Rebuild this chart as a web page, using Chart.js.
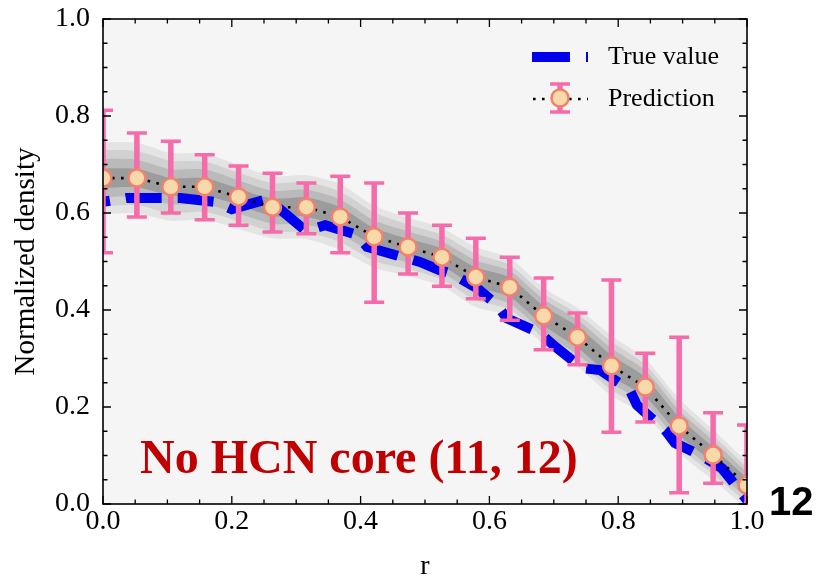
<!DOCTYPE html>
<html>
<head>
<meta charset="utf-8">
<script src="https://cdn.jsdelivr.net/npm/chart.js@4.4.1/dist/chart.umd.min.js"></script>
<style>
  html, body { margin: 0; padding: 0; background: #fff; }
</style>
</head>
<body>
<canvas id="chartDensity" width="829" height="578"></canvas>
<script>
// --- données ---

// grille radiale de la prédiction (20 points)
const rPred = [0.0000, 0.0526, 0.1053, 0.1579, 0.2105, 0.2632, 0.3158, 0.3684, 0.4211, 0.4737,
               0.5263, 0.5789, 0.6316, 0.6842, 0.7368, 0.7895, 0.8421, 0.8947, 0.9474, 1.0000];
const predValue = [0.672, 0.672, 0.654, 0.654, 0.633, 0.612, 0.612, 0.592, 0.551, 0.530,
                   0.509, 0.468, 0.447, 0.388, 0.344, 0.285, 0.241, 0.161, 0.101, 0.039];
// bornes des barres d'erreur
const predHigh = [0.812, 0.765, 0.748, 0.720, 0.697, 0.682, 0.662, 0.676, 0.662, 0.600,
                  0.575, 0.548, 0.509, 0.466, 0.394, 0.462, 0.311, 0.344, 0.188, 0.163];
const predLow = [0.518, 0.592, 0.600, 0.586, 0.575, 0.561, 0.557, 0.518, 0.416, 0.474,
                 0.449, 0.423, 0.379, 0.318, 0.287, 0.148, 0.169, 0.023, 0.043, -0.085];

// demi-largeurs des bandes grises autour de la prédiction (de la plus claire à la plus foncée)
const bandWide = [0.074, 0.073, 0.070, 0.068, 0.066, 0.064, 0.066, 0.068, 0.064, 0.060,
                  0.060, 0.062, 0.060, 0.058, 0.060, 0.062, 0.058, 0.056, 0.052, 0.048];
const bandMid = [0.058, 0.056, 0.054, 0.052, 0.050, 0.050, 0.052, 0.052, 0.050, 0.046,
                 0.046, 0.048, 0.046, 0.046, 0.048, 0.050, 0.046, 0.044, 0.040, 0.036];
const bandNarrow = [0.040, 0.038, 0.036, 0.036, 0.034, 0.034, 0.036, 0.036, 0.034, 0.032,
                    0.032, 0.034, 0.034, 0.034, 0.036, 0.036, 0.034, 0.032, 0.030, 0.026];
const bandCore = [0.020, 0.019, 0.018, 0.018, 0.017, 0.018, 0.020, 0.020, 0.018, 0.017,
                  0.018, 0.020, 0.020, 0.020, 0.022, 0.022, 0.020, 0.018, 0.016, 0.014];
const bandColors = ["#e4e4e4", "#d1d1d1", "#bababa", "#9c9c9c"];

// profil vrai
const rTrue = [0.000, 0.037, 0.120, 0.174, 0.200, 0.256, 0.315, 0.345, 0.394, 0.410,
               0.492, 0.523, 0.543, 0.581, 0.612, 0.627, 0.679, 0.699, 0.744, 0.772,
               0.818, 0.829, 0.873, 0.888, 0.927, 0.961, 1.000];
const trueValue = [0.623, 0.631, 0.631, 0.623, 0.608, 0.629, 0.563, 0.575, 0.555, 0.530,
                   0.499, 0.482, 0.474, 0.445, 0.410, 0.383, 0.352, 0.328, 0.280, 0.276,
                   0.235, 0.204, 0.152, 0.126, 0.101, 0.074, 0.008];

// graduations des axes
const axisTicks = [0.0, 0.2, 0.4, 0.6, 0.8, 1.0];
const minorStep = 0.05;

const legendLabels = ["True value", "Prediction"];
const panelLabel = "No HCN core (11, 12)";
const panelNumber = "12";

// --- couleurs ---
const BLUE = "#0000ee";
const PINK = "#f66ba9";
const SERIF = '"Liberation Serif", "Times New Roman", serif';

// --- jeux de données ---
const datasets = [];
[bandWide, bandMid, bandNarrow, bandCore].forEach((w, k) => {
    datasets.push({
        data: rPred.map((r, i) => ({ x: r, y: predValue[i] + w[i] })),
        borderWidth: 0,
        pointRadius: 0,
        tension: 0.25,
        fill: "+1",
        backgroundColor: bandColors[k],
        order: 30 - 2 * k
    });
    datasets.push({
        data: rPred.map((r, i) => ({ x: r, y: predValue[i] - w[i] })),
        borderWidth: 0,
        pointRadius: 0,
        tension: 0.25,
        fill: false,
        order: 29 - 2 * k
    });
});

datasets.push({
    label: legendLabels[0],
    data: rTrue.map((r, i) => ({ x: r, y: trueValue[i] })),
    borderColor: BLUE,
    borderWidth: 10,
    borderDash: [36, 16],
    borderDashOffset: 29,
    borderCapStyle: "butt",
    borderJoinStyle: "miter",
    pointRadius: 0,
    fill: false,
    order: 3
});

const predIndex = datasets.length;
datasets.push({
    label: legendLabels[1],
    data: rPred.map((r, i) => ({ x: r, y: predValue[i] })),
    borderColor: "#000",
    borderWidth: 2.6,
    borderDash: [2.6, 6.4],
    pointRadius: 8.5,
    pointBorderWidth: 2.5,
    pointBackgroundColor: "#f8d9a9",
    pointBorderColor: "#f2826d",
    fill: false,
    order: 1
});

// --- plugins ---

// fond gris clair de la zone de tracé
const plotBackground = {
    id: "plotBackground",
    beforeDraw(chart) {
        const { ctx, chartArea: a } = chart;
        ctx.save();
        ctx.fillStyle = "#f5f5f5";
        ctx.fillRect(a.left, a.top, a.right - a.left, a.bottom - a.top);
        ctx.restore();
    }
};

// barres d'erreur roses sous les marqueurs
const errorBars = {
    id: "errorBars",
    beforeDatasetDraw(chart, args) {
        if (args.index !== predIndex) return;
        const { ctx, chartArea: a, scales: { x, y } } = chart;
        ctx.save();
        ctx.beginPath();
        ctx.rect(a.left, a.top, a.right - a.left, a.bottom - a.top);
        ctx.clip();
        ctx.strokeStyle = PINK;
        rPred.forEach((r, i) => {
            const px = x.getPixelForValue(r);
            const top = y.getPixelForValue(predHigh[i]);
            const bot = y.getPixelForValue(predLow[i]);
            ctx.lineWidth = 5.5;
            ctx.beginPath();
            ctx.moveTo(px, top);
            ctx.lineTo(px, bot);
            ctx.stroke();
            ctx.lineWidth = 3.5;
            ctx.beginPath();
            ctx.moveTo(px - 10, top);
            ctx.lineTo(px + 10, top);
            ctx.moveTo(px - 10, bot);
            ctx.lineTo(px + 10, bot);
            ctx.stroke();
        });
        ctx.restore();
    }
};

// cadre, graduations vers l'intérieur, légende et textes
const frameAndText = {
    id: "frameAndText",
    afterDraw(chart) {
        const { ctx, chartArea: a, scales: { x, y } } = chart;
        ctx.save();

        // graduations sur les quatre côtés
        ctx.strokeStyle = "#000";
        ctx.lineWidth = 1.3;
        ctx.beginPath();
        for (let i = 0; i <= 20; i++) {
            const v = i * minorStep;
            const major = i % 4 === 0;
            const len = major ? 8 : 4.5;
            const px = x.getPixelForValue(v);
            const py = y.getPixelForValue(v);
            ctx.moveTo(px, a.bottom); ctx.lineTo(px, a.bottom - len);
            ctx.moveTo(px, a.top); ctx.lineTo(px, a.top + len);
            ctx.moveTo(a.left, py); ctx.lineTo(a.left + len, py);
            ctx.moveTo(a.right, py); ctx.lineTo(a.right - len, py);
        }
        ctx.stroke();

        ctx.lineWidth = 1.6;
        ctx.strokeRect(a.left, a.top, a.right - a.left, a.bottom - a.top);

        // légende
        ctx.lineWidth = 10;
        ctx.strokeStyle = BLUE;
        ctx.setLineDash([38, 16]);
        ctx.beginPath();
        ctx.moveTo(532, 57);
        ctx.lineTo(588, 57);
        ctx.stroke();

        ctx.setLineDash([2.6, 6.4]);
        ctx.lineWidth = 2.6;
        ctx.strokeStyle = "#000";
        ctx.beginPath();
        ctx.moveTo(533, 99);
        ctx.lineTo(588, 99);
        ctx.stroke();
        ctx.setLineDash([]);

        ctx.strokeStyle = PINK;
        ctx.lineWidth = 5.5;
        ctx.beginPath();
        ctx.moveTo(560, 84); ctx.lineTo(560, 112);
        ctx.stroke();
        ctx.lineWidth = 3.5;
        ctx.beginPath();
        ctx.moveTo(550, 84); ctx.lineTo(570, 84);
        ctx.moveTo(550, 112); ctx.lineTo(570, 112);
        ctx.stroke();

        ctx.beginPath();
        ctx.arc(560, 98, 8.5, 0, Math.PI * 2);
        ctx.fillStyle = "#f8d9a9";
        ctx.fill();
        ctx.lineWidth = 2.5;
        ctx.strokeStyle = "#f2826d";
        ctx.stroke();

        ctx.fillStyle = "#000";
        ctx.font = "26px " + SERIF;
        ctx.textBaseline = "middle";
        ctx.textAlign = "left";
        ctx.fillText(legendLabels[0], 608, 57);
        ctx.fillText(legendLabels[1], 608, 99);

        // étiquette du panneau
        ctx.textBaseline = "alphabetic";
        ctx.fillStyle = "#c00000";
        ctx.font = "bold 48px " + SERIF;
        ctx.fillText(panelLabel, 140, 473);

        ctx.fillStyle = "#000";
        ctx.font = 'bold 40px "Liberation Sans", Arial, sans-serif';
        ctx.fillText(panelNumber, 769, 515);

        ctx.restore();
    }
};

// les étiquettes débordent librement, la zone de tracé reste fixe
function fixX(s) {
    s.height = 74;
    s.paddingLeft = 0;
    s.paddingRight = 0;
}
function fixY(s) {
    s.width = 103;
    s.paddingTop = 0;
    s.paddingBottom = 0;
}

// --- graphique ---
new Chart(document.getElementById("chartDensity"), {
    type: "line",
    data: { datasets },
    options: {
        responsive: false,
        animation: false,
        devicePixelRatio: 1,
        layout: { padding: { left: 0, right: 82, top: 19, bottom: 0 } },
        plugins: {
            legend: { display: false },
            tooltip: { enabled: false }
        },
        scales: {
            x: {
                type: "linear",
                min: 0,
                max: 1,
                afterFit: fixX,
                afterBuildTicks: s => { s.ticks = axisTicks.map(v => ({ value: v })); },
                grid: { display: false, drawTicks: false },
                border: { display: false },
                ticks: {
                    padding: 1,
                    color: "#000",
                    font: { family: SERIF, size: 28 },
                    maxRotation: 0,
                    callback: v => v.toFixed(1)
                },
                title: {
                    display: true,
                    text: "r",
                    color: "#000",
                    font: { family: SERIF, size: 28, lineHeight: 0.8 },
                    padding: { top: 0, bottom: 0 }
                }
            },
            y: {
                type: "linear",
                min: 0,
                max: 1,
                afterFit: fixY,
                afterBuildTicks: s => { s.ticks = axisTicks.map(v => ({ value: v })); },
                grid: { display: false, drawTicks: false },
                border: { display: false },
                ticks: {
                    padding: 13,
                    color: "#000",
                    font: { family: SERIF, size: 28 },
                    callback: v => v.toFixed(1)
                },
                title: {
                    display: true,
                    text: "Normalized density",
                    color: "#000",
                    font: { family: SERIF, size: 29 },
                    padding: { top: 9, bottom: 0 }
                }
            }
        }
    },
    plugins: [plotBackground, errorBars, frameAndText]
});
</script>
</body>
</html>
